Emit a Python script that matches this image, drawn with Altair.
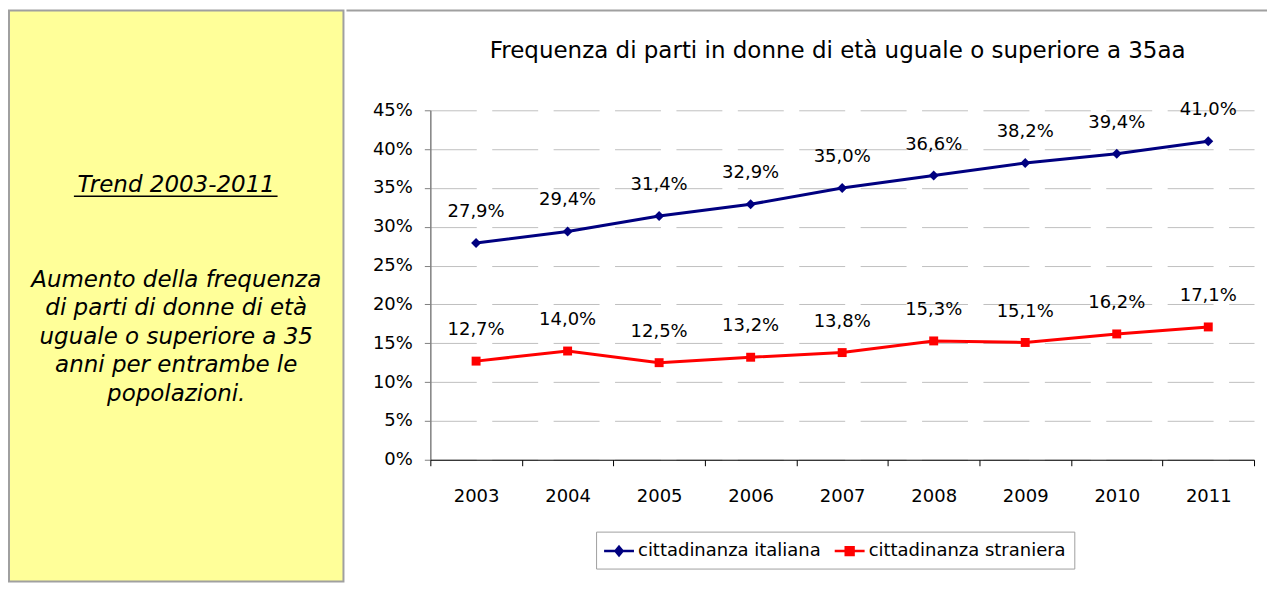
import altair as alt
import pandas as pd

# ---------------- data ----------------
years = ["2003", "2004", "2005", "2006", "2007", "2008", "2009", "2010", "2011"]
italiana = [27.9, 29.4, 31.4, 32.9, 35.0, 36.6, 38.2, 39.4, 41.0]
straniera = [12.7, 14.0, 12.5, 13.2, 13.8, 15.3, 15.1, 16.2, 17.1]
series_names = ["cittadinanza italiana", "cittadinanza straniera"]
series_colors = ["#000080", "#FF0000"]
y_ticks = [0.0, 0.05, 0.10, 0.15, 0.20, 0.25, 0.30, 0.35, 0.40, 0.45]

chart_title = "Frequenza di parti in donne di età uguale o superiore a 35aa"
panel_heading = "Trend 2003-2011"
panel_lines = [
    "Aumento della frequenza",
    "di parti di donne di età",
    "uguale o superiore a 35",
    "anni per entrambe le",
    "popolazioni.",
]

# ---------------- tables ----------------
rows = []
for name, vals in zip(series_names, [italiana, straniera]):
    for yr, v in zip(years, vals):
        rows.append({
            "year": yr,
            "series": name,
            "value": v / 100.0,
            "label": f"{v:.1f}%".replace(".", ","),
        })
df = pd.DataFrame(rows)

df_head = pd.DataFrame({"text": [panel_heading]})
df_body = pd.DataFrame({"idx": list(range(len(panel_lines))), "text": panel_lines})
df_title = pd.DataFrame({"text": [chart_title]})

FONT = "DejaVu Sans"
BORDER = "#A0A0A0"

# ---------------- left panel ----------------
heading = alt.Chart(df_head).mark_text(
    font=FONT, fontSize=23, fontStyle="italic", color="black", align="center", baseline="middle"
).encode(text="text:N", x=alt.value(167.5), y=alt.value(175))

underline = alt.Chart(df_head).mark_rule(color="black", strokeWidth=1.5).encode(
    x=alt.value(65), x2=alt.value(269), y=alt.value(186)
)

body = alt.Chart(df_body).mark_text(
    font=FONT, fontSize=23, fontStyle="italic", color="black", align="center", baseline="middle"
).encode(
    text="text:N",
    x=alt.value(167.5),
    y=alt.Y("idx:O", scale=alt.Scale(type="point", range=[270, 384], padding=0), axis=None),
)

left = alt.layer(heading, underline, body).properties(
    width=335, height=572,
    view=alt.ViewBackground(fill="#FFFF99", stroke=BORDER, strokeWidth=2),
)

# ---------------- title strip of the right panel ----------------
title_text = alt.Chart(df_title).mark_text(
    font=FONT, fontSize=23, color="black", align="center", baseline="middle"
).encode(text="text:N", x=alt.value(408), y=alt.value(41))

top_border = alt.Chart(df_title).mark_rule(color=BORDER, strokeWidth=2).encode(
    x=alt.value(-84), x2=alt.value(838), y=alt.value(0)
)

title_view = alt.layer(top_border, title_text).properties(width=825, height=89)

# ---------------- line chart ----------------
x_enc = alt.X(
    "year:N", sort=years, title=None,
    scale=alt.Scale(type="band", paddingInner=0, paddingOuter=0),
    axis=alt.Axis(
        labelAngle=0, labelFont=FONT, labelFontSize=18, labelColor="black",
        tickBand="extent", tickSize=6, tickColor="black", domainColor="black",
        labelPadding=22, grid=False, zindex=1,
    ),
)
y_enc = alt.Y(
    "value:Q", title=None,
    scale=alt.Scale(domain=[0, 0.45], nice=False, zero=True),
    axis=alt.Axis(
        values=y_ticks, format=".0%", labelFont=FONT, labelFontSize=18, labelColor="black",
        tickSize=6, tickColor="#808080", domainColor="#808080", domainWidth=1.5,
        labelPadding=12, grid=True, gridColor="#C0C0C0", gridDash=[46, 15.5],
    ),
)

diamond_path = "M-1.6,0H1.6M0,-0.45L0.38,0L0,0.45L-0.38,0Z"
square_path = "M-1.6,0H1.6M-0.42,-0.42H0.42V0.42H-0.42Z"

legend = alt.Legend(
    title=None, orient="none", legendX=166, legendY=422, direction="horizontal",
    labelFont=FONT, labelFontSize=18, labelColor="black", labelLimit=400,
    labelOffset=8, columnPadding=8, padding=8, symbolOffset=4,
    symbolSize=350, symbolStrokeWidth=2.5, symbolOpacity=1,
    strokeColor=BORDER, fillColor="white",
)

legend_layer = alt.Chart(df).mark_point(filled=True, opacity=0, strokeWidth=2.5).encode(
    x=x_enc, y=y_enc,
    fill=alt.Fill("series:N", scale=alt.Scale(domain=series_names, range=series_colors), legend=legend),
    stroke=alt.Stroke("series:N", scale=alt.Scale(domain=series_names, range=series_colors), legend=legend),
    shape=alt.Shape("series:N", scale=alt.Scale(domain=series_names, range=[diamond_path, square_path]), legend=legend),
)

color_enc = alt.Color("series:N", scale=alt.Scale(domain=series_names, range=series_colors), legend=None)

lines = alt.Chart(df).mark_line(strokeWidth=3).encode(x=x_enc, y=y_enc, color=color_enc)

pts_it = alt.Chart(df).transform_filter(alt.datum.series == series_names[0]).mark_point(
    filled=True, shape="diamond", size=100, opacity=1
).encode(x=x_enc, y=y_enc, color=color_enc)

pts_st = alt.Chart(df).transform_filter(alt.datum.series == series_names[1]).mark_point(
    filled=True, shape="square", size=80, opacity=1
).encode(x=x_enc, y=y_enc, color=color_enc)

labels = alt.Chart(df).mark_text(
    font=FONT, fontSize=18, color="black", align="center", baseline="middle", dy=-31
).encode(x=x_enc, y=y_enc, text="label:N")

line_chart = alt.layer(legend_layer, lines, pts_it, pts_st, labels).properties(width=825, height=350)

right = alt.vconcat(title_view, line_chart, spacing=0).resolve_scale(
    color="independent", fill="independent", stroke="independent", shape="independent"
)

chart = alt.hconcat(left, right, spacing=0).resolve_scale(
    color="independent", fill="independent", stroke="independent", shape="independent"
).properties(padding=0, background="white").configure_view(stroke="transparent")

chart.save("out.html", embed_options={"renderer": "svg", "actions": False})
